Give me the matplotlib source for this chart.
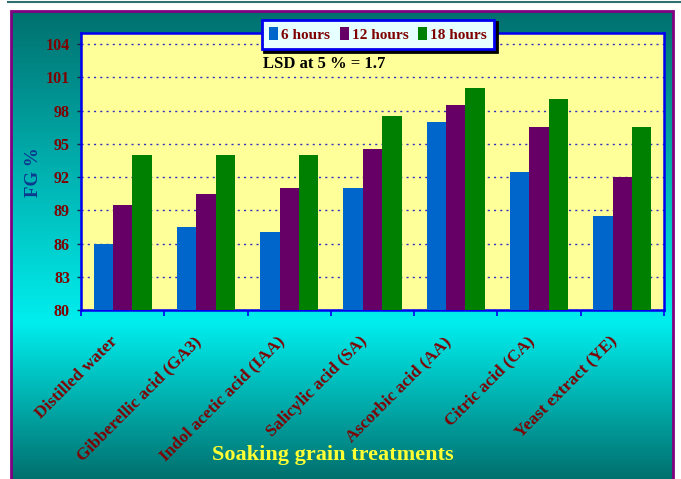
import matplotlib
matplotlib.use("Agg")
import matplotlib.pyplot as plt
import numpy as np
from matplotlib.patches import Patch, Rectangle
from matplotlib.transforms import ScaledTranslation
from matplotlib.lines import Line2D

treatments = ["Distilled water", "Gibberellic acid (GA3)", "Indol acetic acid (IAA)",
              "Salicylic acid (SA)", "Ascorbic acid (AA)", "Citric acid (CA)",
              "Yeast extract (YE)"]
hours_6 = [86.0, 87.5, 87.0, 91.0, 97.0, 92.5, 88.5]
hours_12 = [89.5, 90.5, 91.0, 94.5, 98.5, 96.5, 92.0]
hours_18 = [94.0, 94.0, 94.0, 97.5, 100.0, 99.0, 96.5]
series_names = ["6 hours", "12 hours", "18 hours"]
series_colors = ["#0066CC", "#660066", "#008000"]
y_ticks = [80, 83, 86, 89, 92, 95, 98, 101, 104]

serif = "Liberation Serif"
dark_red = "#800000"

W, H = 681, 479
fig = plt.figure(figsize=(W / 100, H / 100), dpi=100)
fig.patch.set_facecolor("white")

# teal -> cyan -> teal background inside the chart frame
bg = fig.add_axes([11 / W, 0, (673 - 11) / W, (H - 11) / H])
rows = np.linspace(11, H, 400)
dark = np.array([0, 112, 110]) / 255
light = np.array([0, 238, 238]) / 255
peak = 322.0
t = np.where(rows < peak, (rows - 11) / (peak - 11), (H - rows) / (H - peak))
t = np.clip(t, 0, 1)[:, None]
grad = dark + (light - dark) * t
bg.imshow(grad[:, None, :], aspect="auto", extent=[0, 1, 0, 1])
bg.set_axis_off()

# frame lines
fig.add_artist(Rectangle((11 / W, -0.01), (673 - 11) / W, (H - 11) / H + 0.01,
                         transform=fig.transFigure, fill=False,
                         edgecolor="#800080", linewidth=2))
fig.add_artist(Line2D([8 / W, 1], [1 - 2 / H, 1 - 2 / H], transform=fig.transFigure,
                      color="#2F6F70", linewidth=1.5))

ax = fig.add_axes([81 / W, (H - 310) / H, (664 - 81) / W, (310 - 33) / H])
ax.set_facecolor("#FFFF99")

x = np.arange(len(treatments))
w = 0.233
for i, (vals, col) in enumerate(zip([hours_6, hours_12, hours_18], series_colors)):
    ax.bar(x + (i - 1) * w, vals, width=w, color=col, zorder=3, label=series_names[i])

ax.set_xlim(-0.5, len(treatments) - 0.5)
ax.set_ylim(80, 105)
ax.set_yticks(y_ticks)
ax.set_axisbelow(True)
ax.yaxis.grid(True, color="#3030C0", linestyle=(0, (1.5, 3)), linewidth=1)

for s in ax.spines.values():
    s.set_color("#0000EE")
    s.set_linewidth(1.8)

ax.tick_params(axis="y", direction="out", length=3, width=1, color="#202040",
               pad=5, labelsize=11.5, labelcolor=dark_red)
for lab in ax.get_yticklabels():
    lab.set_fontfamily(serif)
    lab.set_fontweight("bold")

ax.set_xticks(x)
ax.set_xticks(np.arange(len(treatments) + 1) - 0.5, minor=True)
ax.tick_params(axis="x", which="minor", direction="out", length=4, width=1.2, color="#0000EE")
ax.tick_params(axis="x", which="major", length=0, pad=17)
ax.set_xticklabels(treatments, rotation=45, ha="right", va="top", rotation_mode="anchor",
                   fontsize=12.5, color=dark_red, fontfamily=serif, fontweight="bold")
shift = ScaledTranslation(-13 / 100, 0, fig.dpi_scale_trans)
for lab in ax.get_xticklabels():
    lab.set_transform(lab.get_transform() + shift)

fig.text(34 / W, 1 - 172 / H, "FG %", rotation=90, ha="center", va="center",
         fontsize=13.5, fontweight="bold", fontfamily=serif, color="#0B3A8F")
fig.text(333 / W, 1 - 455 / H, "Soaking grain treatments", ha="center", va="center",
         fontsize=16, fontweight="bold", fontfamily=serif, color="#FFFF33")
fig.text(263 / W, 1 - 64 / H, "LSD at 5 % = 1.7", ha="left", va="center",
         fontsize=12, fontweight="bold", fontfamily=serif, color="black")

handles = [Patch(facecolor=c, edgecolor="none") for c in series_colors]
leg = fig.legend(handles, series_names, loc="center", bbox_to_anchor=(378 / W, 1 - 34.5 / H),
                 ncol=3, frameon=True, fancybox=False,
                 shadow={"color": "black", "alpha": 1},
                 handlelength=0.6, handleheight=0.9, handletextpad=0.2,
                 columnspacing=0.6, borderpad=0.5, borderaxespad=0,
                 prop={"family": serif, "weight": "bold", "size": 11})
leg.get_frame().set_facecolor("#E6FFFF")
leg.get_frame().set_edgecolor("#0000EE")
leg.get_frame().set_linewidth(2)
for txt in leg.get_texts():
    txt.set_color(dark_red)

fig.savefig("out.png", dpi=100)
